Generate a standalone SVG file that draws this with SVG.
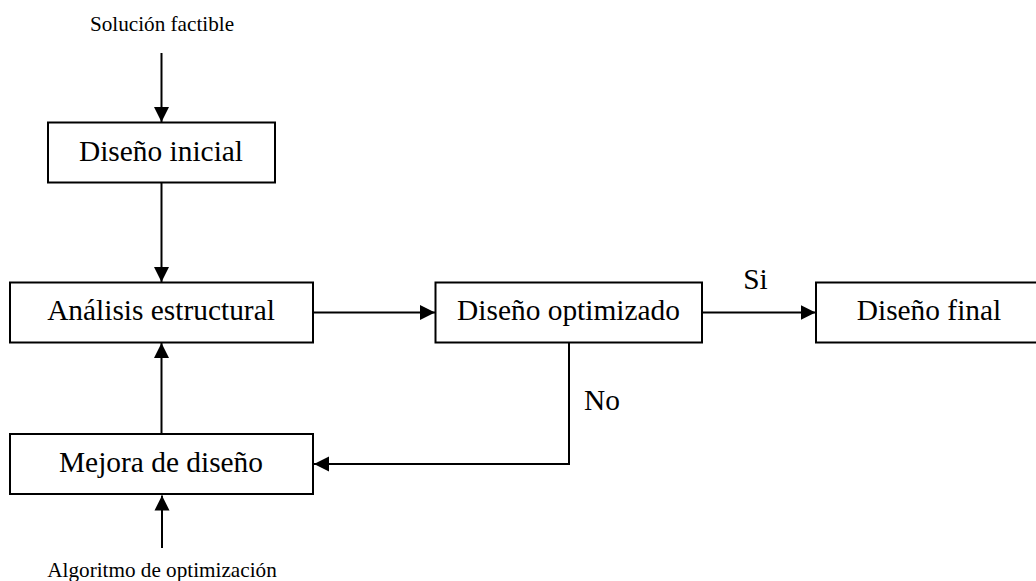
<svg xmlns="http://www.w3.org/2000/svg" width="1036" height="581" viewBox="0 0 1036 581">
<style>
.n{fill:#fff;stroke:#000;stroke-width:2}
.c{fill:none;stroke:#000;stroke-width:2;marker-end:url(#a)}
text{font-family:"Liberation Serif",serif;fill:#000;text-anchor:middle}
.l{font-size:29.4px}
.s{font-size:21.2px}
</style>
<defs><marker id="a" markerUnits="userSpaceOnUse" markerWidth="16" markerHeight="16" refX="15" refY="8" orient="auto"><path d="M0 0.5L15 8L0 15.5z" fill="#000"/></marker></defs>
<rect width="1036" height="581" fill="#fff"/>
<g id="connectors">
<path class="c" d="M161.500 53V122"/>
<path class="c" d="M161.500 183V282"/>
<path class="c" d="M313 312.500H435"/>
<path class="c" d="M702 312.500H815.500"/>
<path class="c" d="M569 343V464H314"/>
<path class="c" d="M161.500 434V343"/>
<path class="c" d="M162 548V495.500"/>
</g>
<g id="n1"><rect class="n" x="48" y="122.500" width="227" height="60"/><text class="l" x="161" y="161">Diseño inicial</text></g>
<g id="n2"><rect class="n" x="10" y="282.500" width="303" height="60"/><text class="l" x="161" y="320">Análisis estructural</text></g>
<g id="n3"><rect class="n" x="435.500" y="282.500" width="266.500" height="60"/><text class="l" x="568.500" y="320">Diseño optimizado</text></g>
<g id="n4"><rect class="n" x="816" y="282.500" width="225" height="60"/><text class="l" x="929" y="320">Diseño final</text></g>
<g id="n5"><rect class="n" x="10" y="434" width="303" height="60"/><text class="l" x="161" y="472">Mejora de diseño</text></g>
<g id="t1"><text class="s" x="162" y="31">Solución factible</text></g>
<g id="t2"><text class="s" x="162" y="577">Algoritmo de optimización</text></g>
<g id="t3"><text class="l" x="755.500" y="289">Si</text></g>
<g id="t4"><text class="l" x="602" y="410">No</text></g>
</svg>
